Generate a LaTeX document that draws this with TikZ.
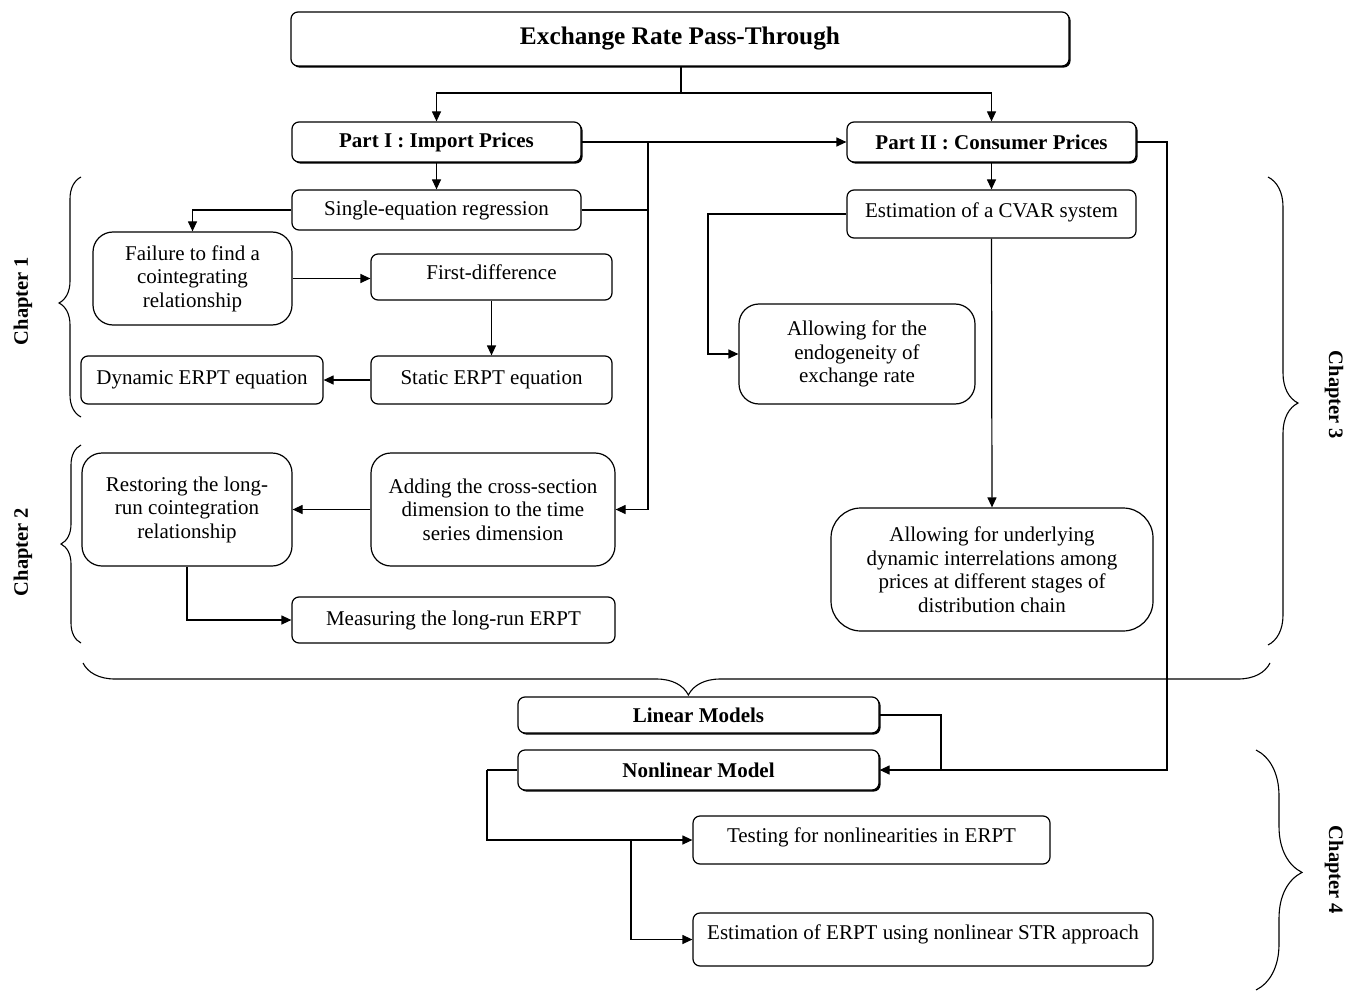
\documentclass[tikz,border=0pt]{standalone}
\usepackage{fontspec}
\setmainfont{Liberation Serif}
\usetikzlibrary{arrows.meta,shadows,decorations.pathreplacing}
\begin{document}
\begin{tikzpicture}[x=1pt,y=-1pt,
  box/.style={draw, line width=1.2pt, rounded corners=7pt, align=center, inner sep=2pt,
    font=\fontsize{21}{23.5}\selectfont, fill=white},
  bigbox/.style={box, rounded corners=20pt},
  hbox/.style={box, font=\bfseries\fontsize{21}{24}\selectfont,
    drop shadow={shadow xshift=1.6pt, shadow yshift=-1.6pt, opacity=1, fill=black}},
  ln/.style={line width=1.2pt},
  arr/.style={line width=1.2pt, -{Triangle[length=10pt,width=9pt]}},
  brc/.style={decorate, decoration={brace, amplitude=#1}, line width=1.1pt},
  chap/.style={font=\bfseries\fontsize{20.5}{23}\selectfont}
]
\useasboundingbox (0,0) rectangle (1348,992);

% nodes
\node[hbox, minimum width=778, minimum height=54, font=\bfseries\fontsize{25.3}{28}\selectfont] (top) at (680,39) {Exchange Rate Pass-Through};
\node[hbox, minimum width=289, minimum height=40] (p1) at (436.5,142) {Part I : Import Prices};
\node[hbox, minimum width=289, minimum height=40] (p2) at (991.5,142) {Part II : Consumer Prices};

\node[box, minimum width=289, minimum height=40] (se) at (436.5,210) {Single-equation regression};
\node[bigbox, minimum width=199, minimum height=93] (fail) at (192.5,278.5) {Failure to find a\\cointegrating\\relationship};
\node[box, minimum width=241, minimum height=46, text depth=9pt] (fd) at (491.5,277) {First-difference};
\node[box, minimum width=241, minimum height=48] (st) at (491.5,380) {Static ERPT equation};
\node[box, minimum width=242, minimum height=48] (dyn) at (202,380) {Dynamic ERPT equation};

\node[bigbox, minimum width=244, minimum height=113] (add) at (493,509.5) {Adding the cross-section\\dimension to the time\\series dimension};
\node[bigbox, minimum width=210, minimum height=113] (rest) at (187,509.5) {Restoring the long-\\run cointegration\\relationship};
\node[box, minimum width=323, minimum height=46] (meas) at (453.5,620) {Measuring the long-run ERPT};

\node[box, minimum width=289, minimum height=48, text depth=8pt] (cvar) at (991.5,214) {Estimation of a CVAR system};
\node[bigbox, minimum width=236, minimum height=100] (endo) at (857,354) {Allowing for the\\endogeneity of\\exchange rate};
\node[box, rounded corners=30pt, minimum width=322, minimum height=123] (under) at (992,569.5) {Allowing for underlying\\dynamic interrelations among\\prices at different stages of\\distribution chain};

\node[hbox, minimum width=361, minimum height=36] (lin) at (698.5,715) {Linear Models};
\node[hbox, minimum width=361, minimum height=40] (nl) at (698.5,770) {Nonlinear Model};
\node[box, minimum width=357, minimum height=48, text depth=10pt] (test) at (871.5,840) {Testing for nonlinearities in ERPT};
\node[box, minimum width=460, minimum height=53, text depth=14pt] (str) at (923,939.5) {Estimation of ERPT using nonlinear STR approach};

% junction coordinates
\coordinate (j1) at (681,93);
\coordinate (v) at (648,142);
\coordinate (c3) at (708,214);
\coordinate (r) at (1167,142);
\coordinate (j2) at (941,715);
\coordinate (k1) at (487,770);
\coordinate (k2) at (631,840);

% connectors
\draw[ln] (top.south -| j1) -- (j1);
\draw[arr] (j1) -| (p1.north);
\draw[arr] (j1) -| (p2.north);
\draw[arr] (p1.east) -- (p2.west);
\draw[arr] (v) |- (add.east);
\draw[ln] (se.east) -- (se.east -| v);
\draw[arr] (p1.south) -- (se.north);
\draw[arr] (se.west) -| (fail.north);
\draw[arr] (fail.east) -- (fail.east -| fd.west);
\draw[arr] (fd.south) -- (st.north);
\draw[arr] (st.west) -- (dyn.east);
\draw[arr] (add.west) -- (rest.east);
\draw[arr] (rest.south) |- (meas.west);

\draw[arr] (p2.south) -- (cvar.north);
\draw[arr] (cvar.west) -- (c3) |- (endo.west);
\draw[arr] (cvar.south) -- (under.north);
\draw[arr] (p2.east) -- (r) |- (nl.east);
\draw[ln] (lin.east) -- (j2) -- (j2 |- nl.east);

\draw[ln] (nl.west) -- (k1);
\draw[arr] (k1) |- (test.west);
\draw[arr] (k2) |- (str.west);

% braces
\draw[brc=22, decoration={aspect=0.475}] (81,417) -- (81,177);
\draw[brc=20, decoration={aspect=0.5}] (81,643) -- (81,445);
\draw[brc=30, decoration={aspect=0.483}] (1268,177) -- (1268,645);
\draw[brc=46, decoration={aspect=0.51}] (1256,750) -- (1256,990);
\draw[brc=32, decoration={aspect=0.49}] (1270,663) -- (83,663);

% chapter labels
\node[chap, rotate=90] (ch1) at (23,301) {Chapter 1};
\node[chap, rotate=90] (ch2) at (23,552) {Chapter 2};
\node[chap, rotate=-90] (ch3) at (1334,395) {Chapter 3};
\node[chap, rotate=-90] (ch4) at (1334,870) {Chapter 4};
\end{tikzpicture}
\end{document}
